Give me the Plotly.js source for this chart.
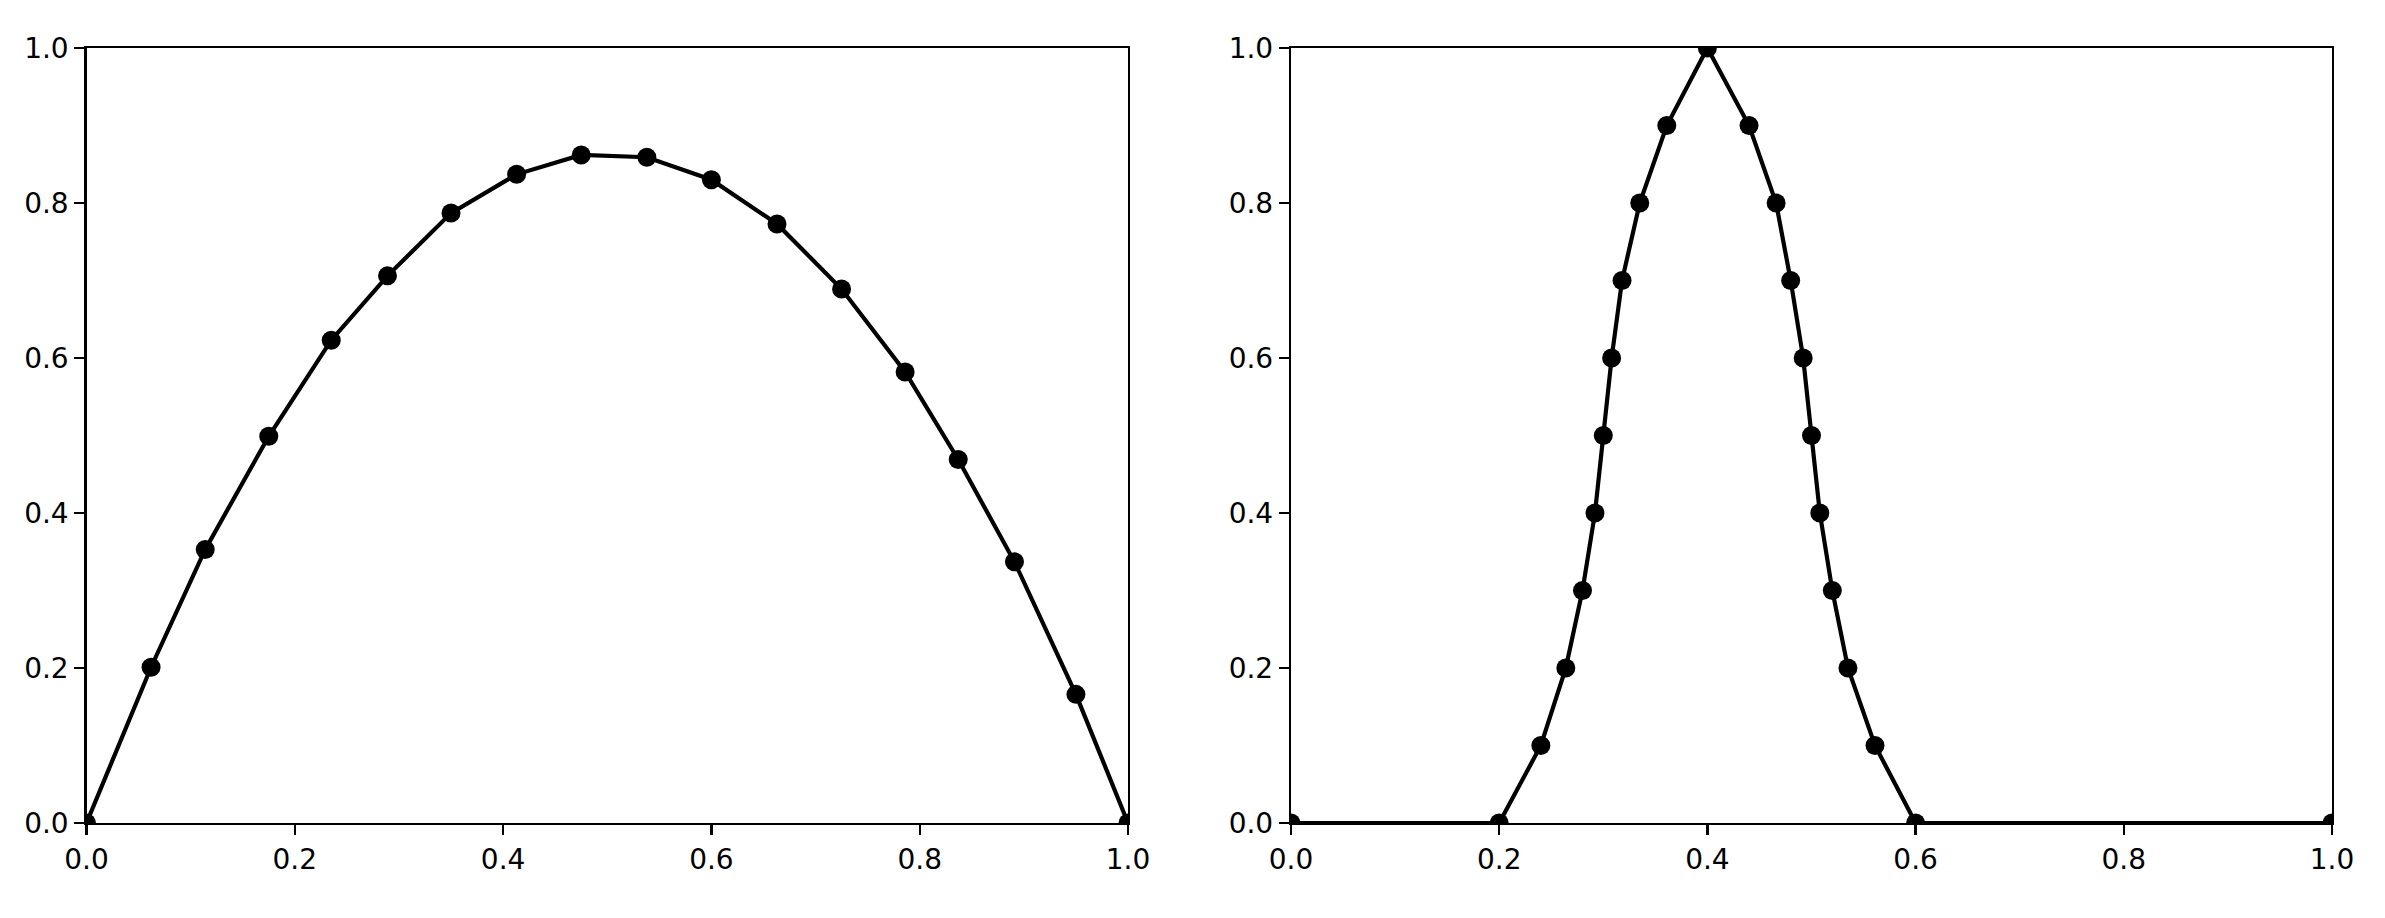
<!DOCTYPE html>
<html>
<head>
<meta charset="utf-8">
<script src="https://cdn.plot.ly/plotly-3.0.1.min.js"></script>
<style>
  html, body { margin: 0; padding: 0; background: #ffffff; }
  #chart { width: 2385px; height: 918px; }
</style>
</head>
<body>
<div id="chart"></div>
<script>
// Left panel: arch-shaped curve
const leftX = [0, 0.062, 0.114, 0.175, 0.235, 0.289, 0.350, 0.413, 0.475, 0.538, 0.600, 0.663, 0.725, 0.786, 0.837, 0.891, 0.950, 1.0];
const leftY = [0, 0.201, 0.353, 0.499, 0.623, 0.706, 0.787, 0.837, 0.862, 0.859, 0.830, 0.773, 0.689, 0.582, 0.469, 0.337, 0.166, 0];

// Right panel: peaked curve
const rightX = [0, 0.2, 0.24, 0.264, 0.28, 0.292, 0.30, 0.308, 0.318, 0.335, 0.361, 0.40, 0.44, 0.466, 0.48, 0.492, 0.50, 0.508, 0.52, 0.535, 0.561, 0.60, 1.0];
const rightY = [0, 0, 0.1, 0.2, 0.3, 0.4, 0.5, 0.6, 0.7, 0.8, 0.9, 1.0, 0.9, 0.8, 0.7, 0.6, 0.5, 0.4, 0.3, 0.2, 0.1, 0, 0];

const tickVals = [0, 0.2, 0.4, 0.6, 0.8, 1.0];
const tickText = ["0.0", "0.2", "0.4", "0.6", "0.8", "1.0"];

const W = 2385, H = 918;
const font = { family: "DejaVu Sans", size: 28, color: "#000000" };

function axis(domain, anchor) {
  return {
    domain: domain,
    anchor: anchor,
    range: [0, 1],
    autorange: false,
    tickmode: "array",
    tickvals: tickVals,
    ticktext: tickText,
    ticks: "outside",
    ticklen: 10,
    tickwidth: 2.2,
    tickcolor: "#000000",
    showline: true,
    linecolor: "#000000",
    linewidth: 2.2,
    mirror: true,
    showgrid: false,
    zeroline: false,
    tickfont: font,
    automargin: false,
    fixedrange: true
  };
}

const lineStyle = { color: "#000000", width: 4.2 };
const markerStyle = { color: "#000000", size: 19 };

const traces = [
  { x: leftX, y: leftY, xaxis: "x", yaxis: "y", type: "scatter", mode: "lines+markers",
    line: lineStyle, marker: markerStyle, showlegend: false, cliponaxis: true },
  { x: rightX, y: rightY, xaxis: "x2", yaxis: "y2", type: "scatter", mode: "lines+markers",
    line: lineStyle, marker: markerStyle, showlegend: false, cliponaxis: true }
];

const yDom = [95 / H, 870 / H];
const layout = {
  width: W,
  height: H,
  margin: { l: 0, r: 0, t: 0, b: 0, pad: 0 },
  paper_bgcolor: "#ffffff",
  plot_bgcolor: "#ffffff",
  font: font,
  showlegend: false,
  xaxis: axis([86.5 / W, 1128 / W], "y"),
  yaxis: axis(yDom, "x"),
  xaxis2: axis([1291 / W, 2332 / W], "y2"),
  yaxis2: axis(yDom, "x2")
};

Plotly.newPlot("chart", traces, layout, { displayModeBar: false, staticPlot: true });
</script>
</body>
</html>
